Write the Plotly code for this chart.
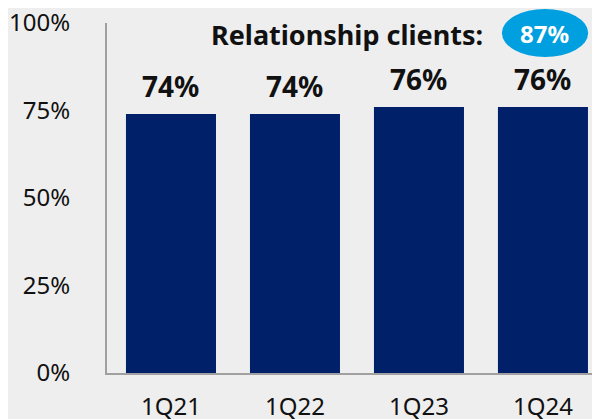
import plotly.graph_objects as go

# Chart data
quarters = ["1Q21", "1Q22", "1Q23", "1Q24"]
shares = [74, 74, 76, 76]
bar_labels = ["74%", "74%", "76%", "76%"]
y_ticks = [0, 25, 50, 75, 100]
y_tick_text = ["0%", "25%", "50%", "75%", "100%"]
callout_text = "Relationship clients:"
callout_value = "87%"

navy = "#00206a"
bg = "#eeeeee"
font = "Noto Sans"

fig = go.Figure(go.Bar(
    x=quarters, y=shares, width=0.726,
    marker=dict(color=navy, line=dict(width=0)),
))

# Value labels above the bars
for q, v, t in zip(quarters, shares, bar_labels):
    fig.add_annotation(x=q, y=v, text=f"<b>{t}</b>", showarrow=False,
                       yanchor="bottom", yshift=7,
                       font=dict(family=font, size=28, color="#111111"))

# Callout at top right
fig.add_annotation(xref="paper", yref="paper", x=0.767, y=0.968,
                   text=f"<b>{callout_text}</b>", showarrow=False,
                   xanchor="right", yanchor="middle",
                   font=dict(family=font, size=27, color="#111111"))
fig.add_shape(type="circle", xref="paper", yref="paper",
              x0=0.801, x1=0.976, y0=0.903, y1=1.04,
              fillcolor="#009fdf", line=dict(width=0), layer="above")
fig.add_annotation(xref="paper", yref="paper", x=0.888, y=0.971,
                   text=f"<b>{callout_value}</b>", showarrow=False,
                   xanchor="center", yanchor="middle",
                   font=dict(family=font, size=24, color="white"))

fig.update_layout(
    width=600, height=419,
    margin=dict(l=99, r=8, t=15, b=54),
    paper_bgcolor=bg, plot_bgcolor=bg,
    showlegend=False,
    font=dict(family=font, size=24, color="#111111"),
    xaxis=dict(range=[-0.516, 3.46], showline=True, linecolor="#a0a0a0",
               linewidth=2, ticks="", showgrid=False, ticklabelstandoff=11,
               tickfont=dict(size=24), automargin=False),
    yaxis=dict(range=[0, 100], tickvals=y_ticks, ticktext=y_tick_text,
               showline=True, linecolor="#a0a0a0", linewidth=2, ticks="",
               showgrid=False, zeroline=False, ticklabelstandoff=30,
               ticklabeloverflow="allow",
               tickfont=dict(size=24), automargin=False),
)

fig.write_html("out.html")
